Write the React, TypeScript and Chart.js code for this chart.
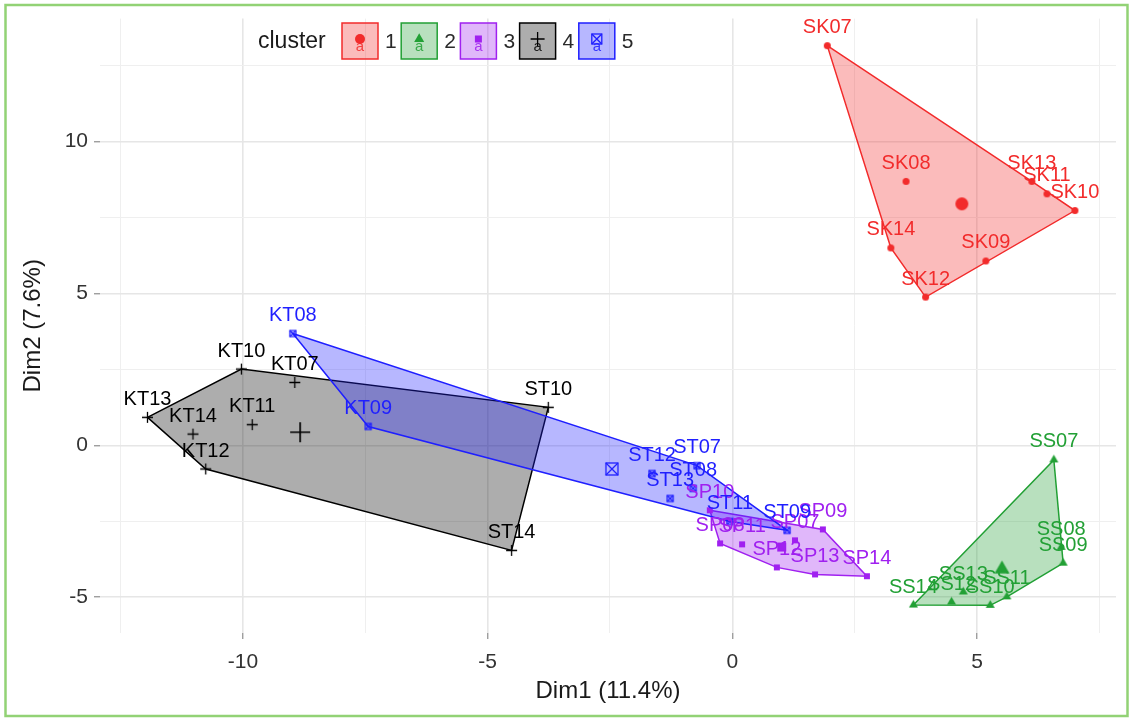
import { useEffect, useRef } from "react";
import { Chart, registerables } from "chart.js";

Chart.register(...registerables);

// ---------- data ----------
const clusterNames = ["1", "2", "3", "4", "5"];
const clusterColors = ["#F22B2B", "#22A035", "#A020F0", "#000000", "#1F1FFF"];
const clusterShapes = ["circle", "triangle", "square", "plus", "boxcross"];

const c1Labels = ["SK07", "SK08", "SK09", "SK10", "SK11", "SK12", "SK13", "SK14"];
const c1X = [1.94, 3.55, 5.18, 7.0, 6.43, 3.95, 6.12, 3.24];
const c1Y = [13.16, 8.69, 6.07, 7.73, 8.28, 4.88, 8.69, 6.5];

const c2Labels = ["SS07", "SS08", "SS09", "SS10", "SS11", "SS12", "SS13", "SS14"];
const c2X = [6.57, 6.72, 6.76, 5.27, 5.61, 4.48, 4.72, 3.7];
const c2Y = [-0.48, -3.36, -3.88, -5.27, -4.99, -5.16, -4.83, -5.26];

const c3Labels = ["SP07", "SP08", "SP09", "SP10", "SP11", "SP12", "SP13", "SP14"];
const c3X = [1.28, -0.25, 1.85, -0.46, 0.2, 0.91, 1.69, 2.75];
const c3Y = [-3.13, -3.23, -2.77, -2.14, -3.26, -4.02, -4.25, -4.31];

const c4Labels = ["KT07", "KT10", "KT11", "KT12", "KT13", "KT14", "ST10", "ST14"];
const c4X = [-8.94, -10.03, -9.81, -10.76, -11.95, -11.02, -3.76, -4.51];
const c4Y = [2.07, 2.51, 0.68, -0.78, 0.92, 0.37, 1.25, -3.46];

const c5Labels = ["KT08", "KT09", "ST07", "ST08", "ST09", "ST11", "ST12", "ST13"];
const c5X = [-8.98, -7.44, -0.72, -0.8, 1.12, -0.05, -1.64, -1.27];
const c5Y = [3.68, 0.62, -0.67, -1.42, -2.8, -2.51, -0.93, -1.75];

const centroidX = [4.69, 5.51, 1.01, -8.83, -2.46];
const centroidY = [7.95, -4.08, -3.35, 0.43, -0.78];

const xMajorTicks = [-10, -5, 0, 5];
const xMinorTicks = [-12.5, -7.5, -2.5, 2.5, 7.5];
const yMajorTicks = [-5, 0, 5, 10];
const yMinorTicks = [-2.5, 2.5, 7.5, 12.5];

const xTitle = "Dim1 (11.4%)";
const yTitle = "Dim2 (7.6%)";
const legendTitle = "cluster";

const clusters = [
  { labels: c1Labels, x: c1X, y: c1Y },
  { labels: c2Labels, x: c2X, y: c2Y },
  { labels: c3Labels, x: c3X, y: c3Y },
  { labels: c4Labels, x: c4X, y: c4Y },
  { labels: c5Labels, x: c5X, y: c5Y },
];

// ---------- helpers ----------
const FONT = "'Liberation Sans', Arial, Helvetica, sans-serif";
const FILL_ALPHA = 0.32;
const pointSizes: Record<string, number> = { circle: 7, triangle: 9, square: 6, plus: 11, boxcross: 6 };
const centroidSizes: Record<string, number> = { circle: 13, triangle: 15, square: 9, plus: 20, boxcross: 12 };

function rgba(hex: string, a: number) {
  const n = parseInt(hex.slice(1), 16);
  return `rgba(${(n >> 16) & 255},${(n >> 8) & 255},${n & 255},${a})`;
}

function drawShape(ctx: CanvasRenderingContext2D, shape: string, x: number, y: number, s: number, color: string) {
  ctx.save();
  ctx.fillStyle = color;
  ctx.strokeStyle = color;
  if (shape === "circle") {
    ctx.beginPath();
    ctx.arc(x, y, s / 2, 0, Math.PI * 2);
    ctx.fill();
  } else if (shape === "triangle") {
    const h = s * 0.866;
    ctx.beginPath();
    ctx.moveTo(x, y - (h * 2) / 3);
    ctx.lineTo(x + s / 2, y + h / 3);
    ctx.lineTo(x - s / 2, y + h / 3);
    ctx.closePath();
    ctx.fill();
  } else if (shape === "square") {
    ctx.fillRect(x - s / 2, y - s / 2, s, s);
  } else if (shape === "plus") {
    ctx.lineWidth = Math.max(1.3, s / 12);
    ctx.beginPath();
    ctx.moveTo(x - s / 2, y);
    ctx.lineTo(x + s / 2, y);
    ctx.moveTo(x, y - s / 2);
    ctx.lineTo(x, y + s / 2);
    ctx.stroke();
  } else if (shape === "boxcross") {
    ctx.lineWidth = Math.max(1.3, s / 10);
    ctx.strokeRect(x - s / 2, y - s / 2, s, s);
    ctx.beginPath();
    ctx.moveTo(x - s / 2, y - s / 2);
    ctx.lineTo(x + s / 2, y + s / 2);
    ctx.moveTo(x + s / 2, y - s / 2);
    ctx.lineTo(x - s / 2, y + s / 2);
    ctx.stroke();
  }
  ctx.restore();
}

function makeMarker(shape: string, size: number, color: string) {
  const c = document.createElement("canvas");
  const d = Math.ceil(size + 4);
  c.width = d;
  c.height = d;
  const ctx = c.getContext("2d")!;
  drawShape(ctx, shape, d / 2, d / 2, size, color);
  return c;
}

function convexHull(pts: number[][]) {
  const p = pts.slice().sort((a, b) => (a[0] === b[0] ? a[1] - b[1] : a[0] - b[0]));
  const cross = (o: number[], a: number[], b: number[]) => (a[0] - o[0]) * (b[1] - o[1]) - (a[1] - o[1]) * (b[0] - o[0]);
  const lower: number[][] = [];
  for (const q of p) {
    while (lower.length >= 2 && cross(lower[lower.length - 2], lower[lower.length - 1], q) <= 0) lower.pop();
    lower.push(q);
  }
  const upper: number[][] = [];
  for (let i = p.length - 1; i >= 0; i--) {
    const q = p[i];
    while (upper.length >= 2 && cross(upper[upper.length - 2], upper[upper.length - 1], q) <= 0) upper.pop();
    upper.push(q);
  }
  upper.pop();
  lower.pop();
  return lower.concat(upper);
}

// ---------- plugins ----------
const hullPlugin = {
  id: "hulls",
  beforeDatasetsDraw(chart: any) {
    const { ctx, chartArea } = chart;
    const xs = chart.scales.x;
    const ys = chart.scales.y;
    ctx.save();
    ctx.beginPath();
    ctx.rect(chartArea.left, chartArea.top, chartArea.width, chartArea.height);
    ctx.clip();
    clusters.forEach((c, i) => {
      const pts = c.x.map((v, j) => [xs.getPixelForValue(v), ys.getPixelForValue(c.y[j])]);
      const hull = convexHull(pts);
      ctx.beginPath();
      hull.forEach((q, k) => (k ? ctx.lineTo(q[0], q[1]) : ctx.moveTo(q[0], q[1])));
      ctx.closePath();
      ctx.fillStyle = rgba(clusterColors[i], FILL_ALPHA);
      ctx.fill();
      ctx.lineWidth = 1.5;
      ctx.strokeStyle = clusterColors[i];
      ctx.stroke();
    });
    ctx.restore();
  },
};

const labelPlugin = {
  id: "pointLabels",
  afterDatasetsDraw(chart: any) {
    const { ctx } = chart;
    const xs = chart.scales.x;
    const ys = chart.scales.y;
    ctx.save();
    ctx.font = `20px ${FONT}`;
    ctx.textAlign = "center";
    ctx.textBaseline = "middle";
    clusters.forEach((c, i) => {
      ctx.fillStyle = clusterColors[i];
      c.labels.forEach((lab, j) => {
        ctx.fillText(lab, xs.getPixelForValue(c.x[j]), ys.getPixelForValue(c.y[j]) - 18);
      });
    });
    ctx.restore();
  },
};

const decorPlugin = {
  id: "decor",
  afterDraw(chart: any) {
    const { ctx, chartArea } = chart;
    ctx.save();
    // axis titles
    ctx.fillStyle = "#1a1a1a";
    ctx.font = `24px ${FONT}`;
    ctx.textAlign = "center";
    ctx.textBaseline = "middle";
    ctx.fillText(xTitle, (chartArea.left + chartArea.right) / 2, 691);
    ctx.save();
    ctx.translate(33, (chartArea.top + chartArea.bottom) / 2);
    ctx.rotate(-Math.PI / 2);
    ctx.fillText(yTitle, 0, 0);
    ctx.restore();

    // legend
    ctx.textAlign = "left";
    ctx.font = `23px ${FONT}`;
    ctx.fillStyle = "#1a1a1a";
    ctx.fillText(legendTitle, 258, 42);
    clusterNames.forEach((name, i) => {
      const bx = 342 + i * 59.2;
      const by = 23;
      const bw = 36;
      const bh = 36;
      ctx.fillStyle = rgba(clusterColors[i], FILL_ALPHA);
      ctx.fillRect(bx, by, bw, bh);
      ctx.lineWidth = 1.5;
      ctx.strokeStyle = clusterColors[i];
      ctx.strokeRect(bx, by, bw, bh);
      const cx = bx + bw / 2;
      const cy = by + bh / 2;
      ctx.save();
      ctx.globalAlpha = 0.85;
      ctx.fillStyle = clusterColors[i];
      ctx.font = `15px ${FONT}`;
      ctx.textAlign = "center";
      ctx.fillText("a", cx, cy + 6);
      ctx.restore();
      drawShape(ctx, clusterShapes[i], cx, cy - 2, clusterShapes[i] === "plus" ? 14 : clusterShapes[i] === "square" ? 7 : 10, clusterColors[i]);
      ctx.fillStyle = "#2a2a2a";
      ctx.font = `21px ${FONT}`;
      ctx.textAlign = "left";
      ctx.fillText(name, bx + bw + 7, cy + 1);
    });

    // outer frame
    ctx.strokeStyle = "#92D275";
    ctx.lineWidth = 2.5;
    ctx.strokeRect(5.5, 5, 1122, 711);
    ctx.restore();
  },
};

// ---------- component ----------
export default function App() {
  const ref = useRef<HTMLCanvasElement | null>(null);

  useEffect(() => {
    if (!ref.current) return;
    Chart.defaults.font.family = FONT;

    const datasets: any[] = [];
    clusters.forEach((c, i) => {
      const shape = clusterShapes[i];
      datasets.push({
        label: clusterNames[i],
        data: c.x.map((v, j) => ({ x: v, y: c.y[j] })),
        pointStyle: makeMarker(shape, pointSizes[shape], clusterColors[i]),
        pointRadius: pointSizes[shape] / 2,
        borderColor: clusterColors[i],
        backgroundColor: clusterColors[i],
        showLine: false,
      });
    });
    clusters.forEach((_c, i) => {
      const shape = clusterShapes[i];
      datasets.push({
        label: "centroid " + clusterNames[i],
        data: [{ x: centroidX[i], y: centroidY[i] }],
        pointStyle: makeMarker(shape, centroidSizes[shape], clusterColors[i]),
        pointRadius: centroidSizes[shape] / 2,
        borderColor: clusterColors[i],
        backgroundColor: clusterColors[i],
        showLine: false,
      });
    });

    const isMajor = (arr: number[], v: number) => arr.some((m) => Math.abs(m - v) < 1e-6);

    const chart = new Chart(ref.current, {
      type: "scatter",
      data: { datasets },
      plugins: [hullPlugin, labelPlugin, decorPlugin],
      options: {
        animation: false,
        responsive: false,
        events: [],
        layout: { padding: { top: 17, right: 16, bottom: 0, left: 0 } },
        plugins: { legend: { display: false }, tooltip: { enabled: false }, title: { display: false } },
        scales: {
          x: {
            type: "linear",
            min: -12.92,
            max: 7.84,
            afterBuildTicks: (s: any) => {
              s.ticks = [...xMinorTicks, ...xMajorTicks].sort((a, b) => a - b).map((v) => ({ value: v }));
            },
            afterFit: (s: any) => {
              s.height = 86;
            },
            border: { display: false },
            grid: {
              color: (ctx: any) => (isMajor(xMajorTicks, ctx.tick.value) ? "#E6E6E6" : "#EFEFEF"),
              lineWidth: (ctx: any) => (isMajor(xMajorTicks, ctx.tick.value) ? 1.6 : 1),
              tickColor: (ctx: any) => (isMajor(xMajorTicks, ctx.tick.value) ? "#777777" : "rgba(0,0,0,0)"),
              tickLength: 6,
              tickWidth: 1,
            },
            ticks: {
              autoSkip: false,
              maxRotation: 0,
              padding: 11,
              color: "#333333",
              font: { size: 21, family: FONT },
              callback: (v: any) => (isMajor(xMajorTicks, Number(v)) ? String(v) : ""),
            },
          },
          y: {
            type: "linear",
            min: -6.18,
            max: 14.05,
            afterBuildTicks: (s: any) => {
              s.ticks = [...yMinorTicks, ...yMajorTicks].sort((a, b) => a - b).map((v) => ({ value: v }));
            },
            afterFit: (s: any) => {
              s.width = 100;
            },
            border: { display: false },
            grid: {
              color: (ctx: any) => (isMajor(yMajorTicks, ctx.tick.value) ? "#E6E6E6" : "#EFEFEF"),
              lineWidth: (ctx: any) => (isMajor(yMajorTicks, ctx.tick.value) ? 1.6 : 1),
              tickColor: (ctx: any) => (isMajor(yMajorTicks, ctx.tick.value) ? "#777777" : "rgba(0,0,0,0)"),
              tickLength: 6,
              tickWidth: 1,
            },
            ticks: {
              autoSkip: false,
              padding: 6,
              color: "#333333",
              font: { size: 21, family: FONT },
              callback: (v: any) => (isMajor(yMajorTicks, Number(v)) ? String(v) : ""),
            },
          },
        },
      },
    } as any);

    return () => chart.destroy();
  }, []);

  return (
    <div style={{ position: "fixed", left: 0, top: 0, width: 1132, height: 719, background: "#ffffff" }}>
      <canvas ref={ref} width={1132} height={719} style={{ display: "block" }} />
    </div>
  );
}
